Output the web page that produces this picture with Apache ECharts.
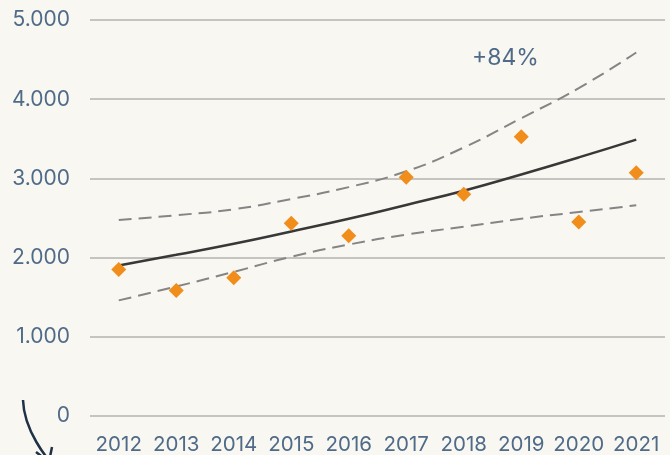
<!DOCTYPE html>
<html>
<head>
<meta charset="utf-8">
<script src="https://cdn.jsdelivr.net/npm/echarts@6/dist/echarts.min.js"></script>
<style>
html,body{margin:0;padding:0;background:#f9f7f1;}
#c{width:670px;height:455px;}
</style>
</head>
<body>
<div id="c"></div>
<script>
var years = ['2012','2013','2014','2015','2016','2017','2018','2019','2020','2021'];
var actual = [1850, 1585, 1745, 2435, 2275, 3015, 2800, 3525, 2450, 3070];
var trend = [1900, 2035, 2175, 2330, 2490, 2665, 2845, 3050, 3265, 3490];
var upper = [2475, 2535, 2610, 2740, 2890, 3090, 3390, 3760, 4140, 4590];
var lower = [1460, 1635, 1820, 2010, 2165, 2290, 2390, 2490, 2575, 2660];
var yTicks = [0, 1000, 2000, 3000, 4000, 5000];
var growthLabel = '+84%';

var FONT = 'Inter';
var TXT = '#4f6b88';
var chart = echarts.init(document.getElementById('c'));
function fmt(v){ return String(v).replace(/\B(?=(\d{3})+(?!\d))/g, '.'); }
var dashed = {color:'#858585', width:2, type:[13,7]};
chart.setOption({
  backgroundColor:'#f9f7f1',
  animation:false,
  grid:{left:90, right:5, top:20, bottom:37},
  xAxis:{
    type:'category', data:years, boundaryGap:true,
    axisLine:{show:false}, axisTick:{show:false},
    axisLabel:{color:TXT, fontFamily:FONT, fontSize:20.5, margin:18, interval:0}
  },
  yAxis:{
    type:'value', min:yTicks[0], max:yTicks[yTicks.length-1], interval:1000,
    axisLine:{show:false}, axisTick:{show:false},
    axisLabel:{color:TXT, fontFamily:FONT, fontSize:21, margin:20, formatter:fmt},
    splitLine:{show:true, lineStyle:{color:'#c6c4c0', width:2}}
  },
  series:[
    {type:'line', data:upper, smooth:true, symbol:'none', lineStyle:dashed, z:2},
    {type:'line', data:lower, smooth:true, symbol:'none', lineStyle:dashed, z:2},
    {type:'line', data:trend, smooth:true, symbol:'none', lineStyle:{color:'#383838', width:2.5}, z:3},
    {type:'scatter', data:actual, symbol:'diamond', symbolSize:[15,15], itemStyle:{color:'#f18d1a', opacity:1}, z:5}
  ],
  graphic:[
    {type:'text', left:472, top:47, style:{text:growthLabel, fill:TXT, font:'23px '+FONT}},
    {type:'bezierCurve', shape:{x1:23, y1:400, cpx1:24, cpy1:432, x2:49, y2:460, cpx2:49, cpy2:460},
      style:{stroke:'#1f3147', lineWidth:2.5, fill:null}},
    {type:'polyline', shape:{points:[[36,452],[49,462],[52,447]]},
      style:{stroke:'#1f3147', lineWidth:2.5, fill:null}}
  ]
});
</script>
</body>
</html>
